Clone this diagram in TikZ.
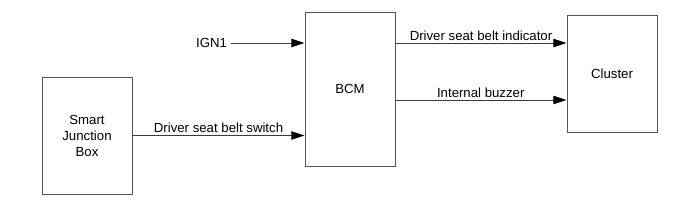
\documentclass[tikz,border=0pt]{standalone}
\usepackage{fontspec}
\setmainfont{Liberation Sans}
\usetikzlibrary{arrows.meta,positioning,calc}
\definecolor{boxline}{HTML}{555555}
\definecolor{wire}{HTML}{3A3A3A}
\tikzset{
  unitbox/.style={
    draw=boxline,
    line width=0.7pt,
    minimum width=2.25cm,
    align=center,
    inner sep=0pt,
    font=\fontsize{9.4}{11.4}\selectfont
  },
  sigar/.style={-{Triangle[length=3.3mm,width=2.1mm,color=black]},line width=0.7pt,draw=wire},
  siglabel/.style={above=1.5pt,midway,inner sep=0pt,font=\fontsize{9.4}{11.4}\selectfont}
}
\begin{document}
\begin{tikzpicture}
  \useasboundingbox (0,0) rectangle (17.5,5.175);

  \node[unitbox,minimum height=2.925cm] (sjb) at (2.175, 1.7875) {Smart\\Junction\\Box};
  \node[unitbox,minimum height=3.84cm]  (bcm) at (8.75,  2.94)   {BCM};
  \node[unitbox,minimum height=2.925cm] (clu) at (15.3,  3.3375) {Cluster};

  \node[anchor=east,inner sep=0pt,font=\fontsize{9.4}{11.4}\selectfont] (ign) at (5.68, 4.1) {IGN1};
  \coordinate (bcmout) at (9.875, 2.675);

  \draw[sigar] ([xshift=2.5pt]ign.east) -- (ign -| bcm.west);
  \draw[sigar] (sjb.east) -- (sjb.east -| bcm.west)
    node[siglabel] {Driver seat belt switch};
  \draw[sigar] (ign -| bcm.east) -- (ign -| clu.west)
    node[siglabel] {Driver seat belt indicator};
  \draw[sigar] (bcmout) -- (bcmout -| clu.west)
    node[siglabel] {Internal buzzer};
\end{tikzpicture}
\end{document}
